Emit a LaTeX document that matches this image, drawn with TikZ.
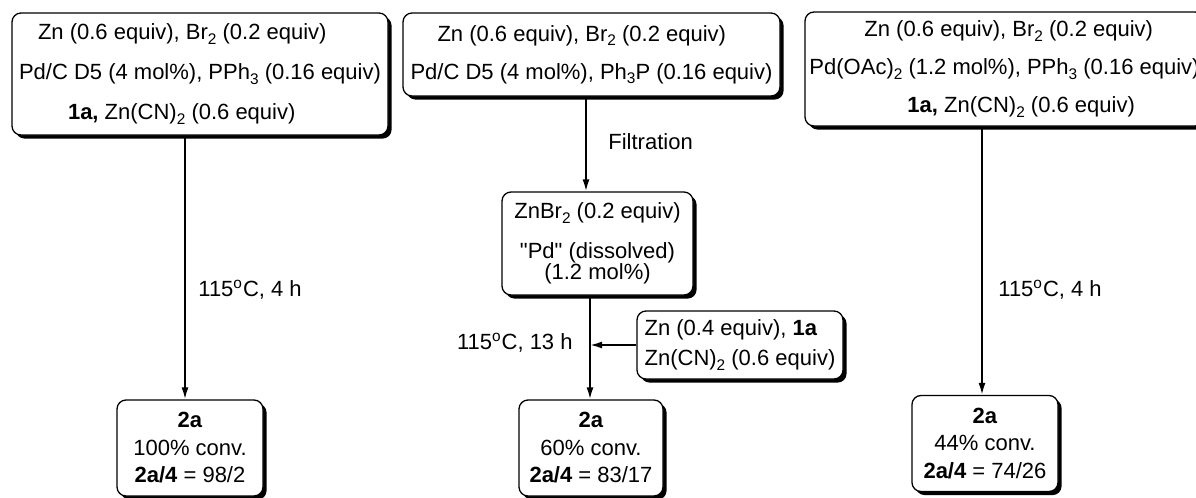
\documentclass[tikz,border=0pt]{standalone}
\usepackage{fontspec}
\setmainfont{Liberation Sans}
\usetikzlibrary{arrows.meta,shadows}

% lowered index for formulas such as Br2, PPh3
\newcommand\lowidx[1]{\raisebox{-0.4ex}{\fontsize{7.7}{8}\selectfont #1}}
\newcommand\degC{\textsuperscript{o}C}
% let lines sit closer than their height and depth would allow
\newcommand\tightlines{\lineskiplimit=-20pt\relax}
% indent of a line inside a left-aligned box
\newcommand\ind[1]{\hspace*{#1}}

\begin{document}
\begin{tikzpicture}[x=0.5pt,y=-0.5pt,
  txt/.style={font=\fontsize{11}{19}\selectfont},
  box/.style={txt, draw, line width=0.65pt, rounded corners=4.5pt, fill=white,
    align=center, inner sep=0pt,
    drop shadow={shadow xshift=1.8pt, shadow yshift=-1.8pt, fill=black, opacity=1}},
  resbox/.style={box, font=\fontsize{11}{13.75}\selectfont,
    minimum width=73pt, minimum height=48pt},
  flow/.style={line width=0.9pt, -{Latex[length=6pt,width=3.5pt]}},
  lbl/.style={txt, inner sep=0pt}]

\useasboundingbox (0,0) rectangle (1196,498);

% columns of the vertical arrows
\coordinate (colL) at (185,0);
\coordinate (colMa) at (586,0);
\coordinate (colMb) at (590,0);
\coordinate (colR) at (982,0);

% starting mixtures
\node[box, align=left, minimum width=188pt, minimum height=61pt,
      font=\fontsize{11}{20}\selectfont] (mixL) at (200,74)
  {\ind{9.5pt}Zn (0.6 equiv), Br\lowidx{2} (0.2 equiv)\\
   Pd/C D5 (4 mol\%), PPh\lowidx{3} (0.16 equiv)\\
   \ind{24.5pt}\textbf{1a,} Zn(CN)\lowidx{2} (0.6 equiv)};
\node[box, align=left, minimum width=188.5pt, minimum height=41.5pt] (mixM) at (591.5,54.5)
  {\ind{13.5pt}Zn (0.6 equiv), Br\lowidx{2} (0.2 equiv)\\
   Pd/C D5 (4 mol\%), Ph\lowidx{3}P (0.16 equiv)};
\node[box, align=left, minimum width=199.5pt, minimum height=57pt] (mixR) at (1004.5,69)
  {\ind{27.5pt}Zn (0.6 equiv), Br\lowidx{2} (0.2 equiv)\\
   Pd(OAc)\lowidx{2} (1.2 mol\%), PPh\lowidx{3} (0.16 equiv)\\
   \ind{49pt}\textbf{1a,} Zn(CN)\lowidx{2} (0.6 equiv)};

% filtrate and the later additions
\node[box, minimum width=95.5pt, minimum height=51.5pt,
      font=\fontsize{11}{10.4}\selectfont\tightlines] (filt) at (597.5,243.5)
  {ZnBr\lowidx{2} (0.2 equiv)\\[9.4pt]
   \textquotedbl Pd\textquotedbl\ (dissolved)\\
   (1.2 mol\%)};
\node[box, align=left, minimum width=103pt, minimum height=34pt,
      font=\fontsize{11}{15}\selectfont] (add) at (740,345)
  {Zn (0.4 equiv), \textbf{1a}\\
   Zn(CN)\lowidx{2} (0.6 equiv)};

% results
\node[resbox] (resL) at (190,448)
  {\textbf{2a}\\ 100\% conv.\\ \textbf{2a/4} = 98/2};
\node[resbox, minimum width=72pt] (resM) at (591,448)
  {\textbf{2a}\\ 60\% conv.\\ \textbf{2a/4} = 83/17};
\node[resbox] (resR) at (985,443.5)
  {\textbf{2a}\\ 44\% conv.\\ \textbf{2a/4} = 74/26};

% connectors
\draw[flow] (mixL.south -| colL) -- (resL.north -| colL);
\draw[flow] (mixM.south -| colMa) -- (filt.north -| colMa);
\draw[flow] (filt.south -| colMb) -- (resM.north -| colMb);
\draw[flow] (add.west) -- (add.west -| colMb);
\draw[flow] (mixR.south -| colR) -- (resR.north -| colR);

% conditions
\node[lbl, anchor=west] (condL) at (198,290) {115\degC, 4 h};
\node[lbl, anchor=west] (filtr) at (608,142) {Filtration};
\node[lbl, anchor=east] (condM) at (573,343) {115\degC, 13 h};
\node[lbl, anchor=west] (condR) at (998,290) {115\degC, 4 h};
\end{tikzpicture}
\end{document}
